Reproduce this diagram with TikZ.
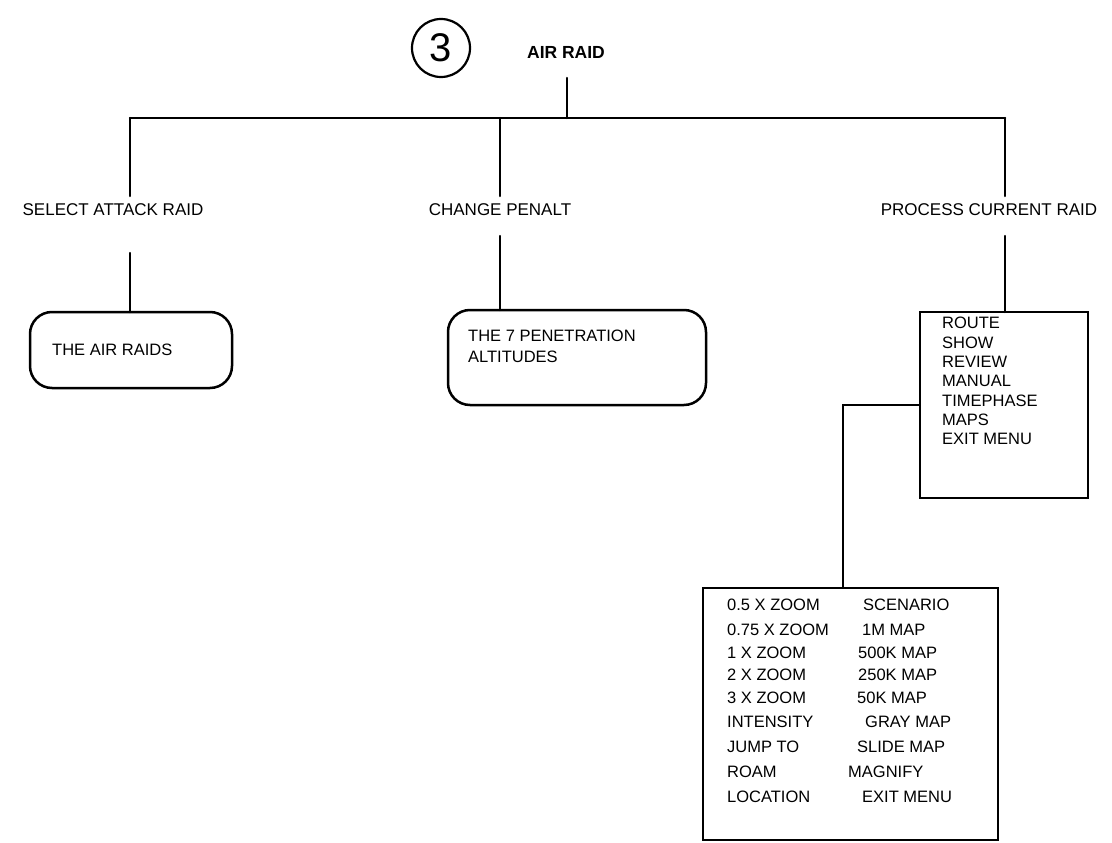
\documentclass[tikz,border=0pt]{standalone}
\usepackage{fontspec}
\setmainfont{Liberation Sans}
\begin{document}
\begin{tikzpicture}[x=1pt,y=-1pt,
  ln/.style={line width=2.5pt,line cap=round,line join=miter},
  lbl/.style={inner sep=0pt,font=\fontsize{17}{19}\selectfont},
  item/.style={inner sep=0pt,anchor=west,font=\fontsize{16.5}{21}\selectfont},
  rbox/.style={draw,line width=2.5pt,rounded corners=22pt},
  sbox/.style={draw,line width=2.5pt}]
\useasboundingbox (0,0) rectangle (1112,843);
% title
\node[draw,circle,line width=2.2pt,minimum size=58pt,inner sep=0pt,font=\fontsize{40}{40}\selectfont] (num) at (441,48) {3};
\node[inner sep=0pt,font=\bfseries\fontsize{17.5}{19}\selectfont] (title) at (566,52) {AIR RAID};
\coordinate (tbot) at (567,78);
\coordinate (bus) at (567,118);
\coordinate (busL) at (130,118);
\coordinate (busM) at (500,118);
\coordinate (busR) at (1005,118);
% level 1
\node[lbl] (sel) at (113,210) {SELECT ATTACK RAID};
\node[lbl] (chg) at (500,210) {CHANGE PENALT};
\node[lbl] (proc) at (989,210) {PROCESS CURRENT RAID};
\coordinate (selT) at (130,196);
\coordinate (chgT) at (500,196);
\coordinate (procT) at (1005,196);
\coordinate (selB) at (130,253);
\coordinate (chgB) at (500,236);
\coordinate (procB) at (1005,236);
\draw[ln] (tbot) -- (bus);
\draw[ln] (busL) -- (busR);
\draw[ln] (busL) -- (selT);
\draw[ln] (busM) -- (chgT);
\draw[ln] (busR) -- (procT);
% boxes
\draw[rbox] (30,312) rectangle (232,388);
\node[item] (airraids) at (52,350) {THE AIR RAIDS};
\coordinate (b1) at (130,312);
\draw[rbox] (448,310) rectangle (706,405);
\node[item,align=left] (pen) at (468,346) {THE 7 PENETRATION\\ALTITUDES};
\coordinate (b2) at (500,310);
\draw[sbox] (920,312) rectangle (1088,498);
\coordinate (b3) at (1005,312);
\foreach \t [count=\i] in {ROUTE,SHOW,REVIEW,MANUAL,TIMEPHASE,MAPS,EXIT MENU}
  \node[item] (m\i) at (942,{323+19.4*(\i-1)}) {\t};
\draw[ln] (selB) -- (b1);
\draw[ln] (chgB) -- (b2);
\draw[ln] (procB) -- (b3);
% maps box
\coordinate (c1) at (920,405);
\coordinate (c2) at (843,405);
\coordinate (c3) at (843,588);
\draw[ln,line cap=butt] (c1) -- (c2) -- (c3);
\draw[sbox] (703,588) rectangle (998,840);
\foreach \l/\r/\rx/\yy [count=\i] in {
  0.5 X ZOOM/SCENARIO/863/605,
  0.75 X ZOOM/1M MAP/862/630,
  1 X ZOOM/500K MAP/858/653,
  2 X ZOOM/250K MAP/858/675,
  3 X ZOOM/50K MAP/857/698,
  INTENSITY/GRAY MAP/865/722,
  JUMP TO/SLIDE MAP/857/747,
  ROAM/MAGNIFY/848/772,
  LOCATION/EXIT MENU/862/797}
{
  \node[item] (L\i) at (727,\yy) {\l};
  \node[item] (R\i) at (\rx,\yy) {\r};
}
\end{tikzpicture}
\end{document}
